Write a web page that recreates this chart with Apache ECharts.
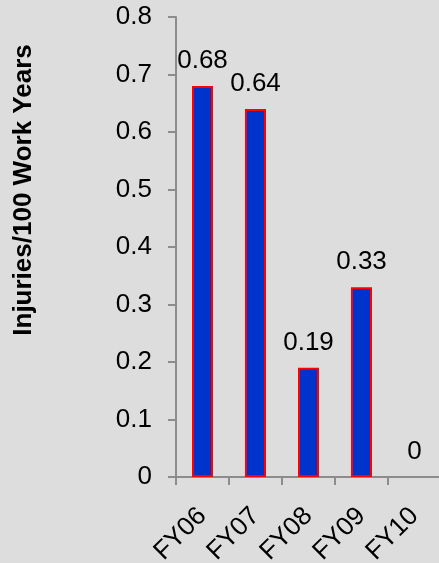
<!DOCTYPE html>
<html>
<head>
<meta charset="utf-8">
<script src="https://cdn.jsdelivr.net/npm/echarts@6/dist/echarts.min.js"></script>
<style>
html,body{margin:0;padding:0;background:#dddddd;}
#c{width:439px;height:563px;}
</style>
</head>
<body>
<div id="c"></div>
<script>
const categories = ['FY06', 'FY07', 'FY08', 'FY09', 'FY10'];
const values = [0.68, 0.64, 0.19, 0.33, 0];
const yTicks = { min: 0, max: 0.8, interval: 0.1 };
const yTitle = 'Injuries/100 Work Years';

const FONT = '"Liberation Sans", Arial, sans-serif';
const chart = echarts.init(document.getElementById('c'), null, { renderer: 'canvas' });
chart.setOption({
  backgroundColor: '#dddddd',
  animation: false,
  grid: { left: 176, top: 17, right: -2, bottom: 86, containLabel: false, outerBoundsMode: 'none' },
  graphic: [{
    type: 'text',
    x: 24, y: 190,
    rotation: Math.PI / 2,
    style: {
      text: yTitle,
      font: 'bold 26px ' + FONT,
      fill: '#000',
      align: 'center',
      verticalAlign: 'middle'
    }
  }],
  xAxis: {
    type: 'category',
    data: categories,
    boundaryGap: true,
    axisLine: { lineStyle: { color: '#8c8c8c', width: 2 } },
    axisTick: { show: true, alignWithLabel: false, length: 8, lineStyle: { color: '#8c8c8c', width: 2 } },
    axisLabel: { rotate: 45, margin: 35, color: '#000', fontSize: 26, fontFamily: FONT, interval: 0 }
  },
  yAxis: {
    type: 'value',
    min: yTicks.min, max: yTicks.max, interval: yTicks.interval,
    splitLine: { show: false },
    axisLine: { show: true, lineStyle: { color: '#8c8c8c', width: 2 } },
    axisTick: { show: true, length: 8, lineStyle: { color: '#8c8c8c', width: 2 } },
    axisLabel: { margin: 24, color: '#000', fontSize: 26, fontFamily: FONT }
  },
  series: [{
    type: 'bar',
    data: values.map(v => v === 0 ? { value: v, itemStyle: { borderWidth: 0 } } : v),
    barWidth: 21,
    itemStyle: { color: '#0033cc', borderColor: '#ff0000', borderWidth: 2 },
    label: {
      show: true, position: 'top', distance: 12,
      color: '#000', fontSize: 26, fontFamily: FONT,
      formatter: p => String(p.value)
    }
  }]
});
</script>
</body>
</html>
